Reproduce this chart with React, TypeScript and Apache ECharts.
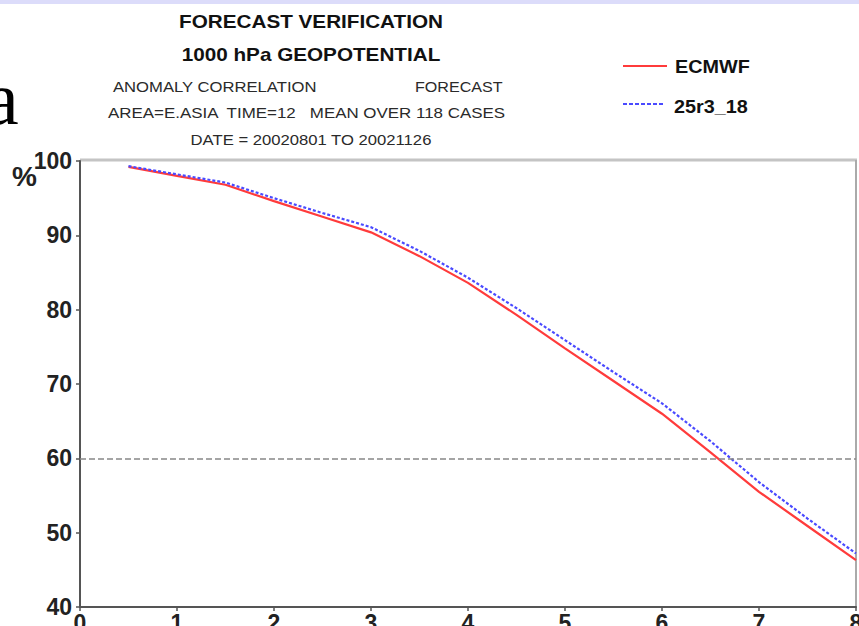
import React, { useEffect, useRef } from "react";
import * as echarts from "echarts";

const days = [0.5, 1, 1.5, 2, 2.5, 3, 3.5, 4, 4.5, 5, 5.5, 6, 6.5, 7, 7.5, 8];
const ecmwf = [99.2, 98.0, 96.8, 94.6, 92.5, 90.4, 87.2, 83.6, 79.3, 74.8, 70.4, 66.0, 60.8, 55.5, 50.9, 46.3];
const exp25r3 = [99.3, 98.2, 97.1, 95.0, 93.0, 91.1, 87.9, 84.3, 80.2, 75.9, 71.6, 67.4, 62.3, 56.8, 51.9, 47.2];
const seriesNames = ["ECMWF", "25r3_18"];
const seriesColors = ["#ff3b3b", "#4a4aff"];
const refLevel = 60;

const titleLines = ["FORECAST VERIFICATION", "1000 hPa GEOPOTENTIAL"];
const infoLeft = "ANOMALY CORRELATION";
const infoRight = "FORECAST";
const infoArea = "AREA=E.ASIA  TIME=12   MEAN OVER 118 CASES";
const infoDate = "DATE = 20020801 TO 20021126";
const unitLabel = "%";

export default function App() {
  const ref = useRef<HTMLDivElement>(null);
  useEffect(() => {
    document.body.style.margin = "0";
    const chart = echarts.init(ref.current!, null, { renderer: "svg" });
    const font = "'Liberation Sans', Arial, sans-serif";
    const txt = (text: string, x: number, y: number, size: number, bold: boolean, sx: number, align: string, fill = "#1a1a1a") => ({
      type: "text",
      x,
      y,
      scaleX: sx,
      style: {
        text,
        font: (bold ? "bold " : "") + size + "px " + font,
        fill,
        textAlign: align,
        textVerticalAlign: "middle",
      },
    });
    chart.setOption({
      animation: false,
      backgroundColor: "#ffffff",
      grid: { left: 80, right: 3, top: 161, bottom: 19, containLabel: false, outerBoundsMode: "none" },
      xAxis: {
        type: "value",
        min: 0,
        max: 8,
        interval: 1,
        axisLine: { show: true, lineStyle: { color: "#555", width: 2 } },
        axisTick: { show: true, length: 4, lineStyle: { color: "#555", width: 1.5 } },
        axisLabel: { fontFamily: font, fontSize: 23, fontWeight: "bold", color: "#222", margin: 4 },
        splitLine: { show: false },
      },
      yAxis: {
        type: "value",
        min: 40,
        max: 100,
        interval: 10,
        axisLine: { show: true, lineStyle: { color: "#555", width: 2 } },
        axisTick: { show: true, length: 4, lineStyle: { color: "#555", width: 1.5 } },
        axisLabel: { fontFamily: font, fontSize: 23, fontWeight: "bold", color: "#222", margin: 8 },
        splitLine: { show: false },
      },
      series: [
        {
          name: seriesNames[0],
          type: "line",
          data: days.map((d, i) => [d, ecmwf[i]]),
          showSymbol: false,
          symbol: "none",
          lineStyle: { color: seriesColors[0], width: 2.2 },
          markLine: {
            silent: true,
            symbol: "none",
            label: { show: false },
            lineStyle: { color: "#888", type: [6, 3], width: 1.5 },
            data: [{ yAxis: refLevel }],
          },
          z: 3,
        },
        {
          name: seriesNames[1],
          type: "line",
          data: days.map((d, i) => [d, exp25r3[i]]),
          showSymbol: false,
          symbol: "none",
          lineStyle: { color: seriesColors[1], width: 2.2, type: [3, 2] },
          z: 4,
        },
      ],
      graphic: [
        { type: "rect", shape: { x: 0, y: 0, width: 859, height: 4 }, style: { fill: "#dcdcfa" } },
        { type: "line", shape: { x1: 80, y1: 160, x2: 857, y2: 160 }, style: { stroke: "#c4c4c4", lineWidth: 3 } },
        { type: "line", shape: { x1: 856, y1: 160, x2: 856, y2: 607 }, style: { stroke: "#aaa", lineWidth: 2 } },
        { type: "text", x: -15, y: 98, style: { text: "a", font: "76px 'Liberation Serif', serif", fill: "#000", textVerticalAlign: "middle" } },
        txt(titleLines[0], 311, 22, 18, true, 1.15, "center", "#111"),
        txt(titleLines[1], 311, 55, 18, true, 1.15, "center", "#111"),
        txt(infoLeft, 113, 87, 14, false, 1.19, "left", "#2a2a2a"),
        txt(infoRight, 415, 87, 14, false, 1.15, "left", "#2a2a2a"),
        txt(infoArea, 108, 113, 14, false, 1.21, "left", "#2a2a2a"),
        txt(infoDate, 311, 140, 14, false, 1.19, "center", "#2a2a2a"),
        txt(unitLabel, 12, 176, 28, true, 1, "left", "#222"),
        { type: "line", shape: { x1: 623, y1: 66, x2: 667, y2: 66 }, style: { stroke: seriesColors[0], lineWidth: 2.2 } },
        txt(seriesNames[0], 675, 67, 18, true, 1.1, "left", "#111"),
        { type: "line", shape: { x1: 623, y1: 104, x2: 665, y2: 104 }, style: { stroke: seriesColors[1], lineWidth: 2.2, lineDash: [4, 2] } },
        txt(seriesNames[1], 674, 107, 18, true, 1.1, "left", "#111"),
      ],
    });
    return () => chart.dispose();
  }, []);
  return <div ref={ref} style={{ width: 859, height: 626 }} />;
}
